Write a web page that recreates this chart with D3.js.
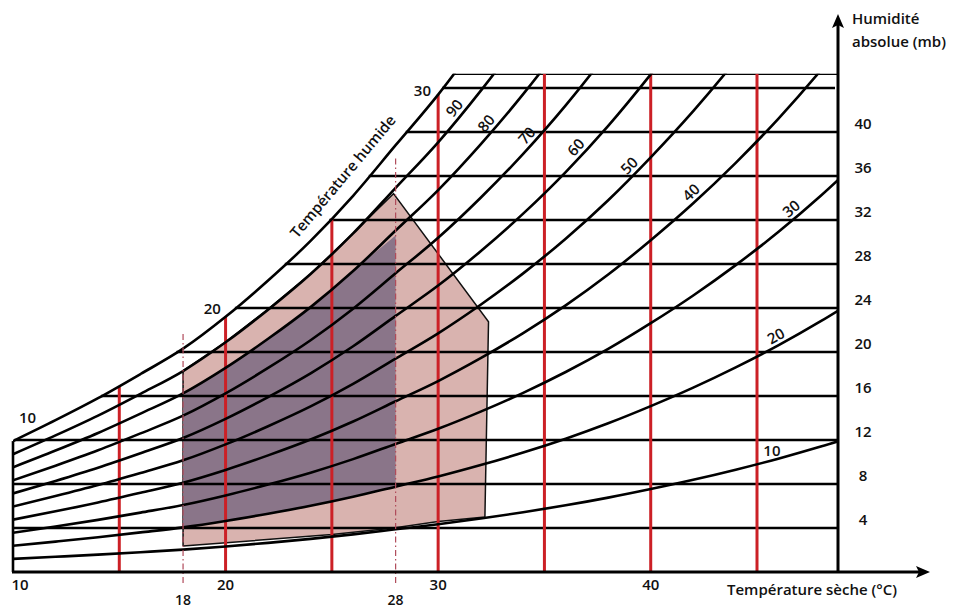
<!DOCTYPE html>
<html><head><meta charset="utf-8">
<title>Diagramme de Givoni</title>
<script src="https://cdn.jsdelivr.net/npm/d3@7"></script>
<style>
  html,body{margin:0;background:#fff}
  svg{display:block}
  text{font-family:"Open Sans",sans-serif;font-weight:600;fill:#111}
</style></head><body>
<svg width="966" height="609"></svg>
<script>
// --- data ----------------------------------------------------------
// saturation humidity (mb) along the 100% curve
const satT = [10,12,14,16,18,20,22,24,26,28,30,32,34,36,38,40,42,44,46,48,50];
const satH = [11.9,13.8,15.8,18.0,20.3,23.2,26.5,30.1,34.2,38.8,43.4,48.6,54.3,60.6,67.6,75.4,83.8,93.0,103.0,114.0,126.0];
const rhLevels  = [10,20,30,40,50,60,70,80,90,100];
const rhLabelAt = [45.7,46.1,46.9,42.2,39.3,36.8,34.5,32.6,31.1];   // T where each RH label sits
const humTicks  = [4,8,12,16,20,24,28,32,36,40];
const humLines  = [4,8,12,16,20,24,28,32,36,40,44,45.3];
const tempTicks = [10,20,30,40];
const redT      = [15,20,25,30,35,40,45];
const comfortT  = [18,28];
const comfortTop = [21.7,37.6];
const wetBulb   = [10,20,30];
const wetBulbAt = [11,19.8,29.8];
const pinkZone = [[18,2.36],[18,18.3],[20,20.9],[22,23.9],[24,27.1],[26,30.8],[27.9,34.4],
                  [32.37,22.75],[32.2,5.0],[30,4.6],[27.9,4.0],[25,3.4],[18,2.36]];
const darkZone = [[18,4.05],[18,16.2],[20,18.6],[22,21.2],[24,24.1],[26,27.4],[28,30.6],
                  [28,7.8],[26,6.8],[24,6.0],[22,5.3],[20,4.6],[18,4.05]];

// --- layout ---------------------------------------------------------
const svg = d3.select('svg');
const x = d3.scaleLinear([10,45],[13,757]);
const y = d3.scaleLinear([0,40],[572,132]);
const xEnd = 838;
const Hmax = humLines[humLines.length-1];
const satAt = d3.scaleLinear(satT, satH);
const tAtSat = d3.scaleLinear(satH, satT);

svg.append('clipPath').attr('id','plot')
  .append('rect').attr('x',x(10)).attr('y',y(Hmax)).attr('width',xEnd-x(10)).attr('height',y(0)-y(Hmax));

const zone = d3.line().x(d=>x(d[0])).y(d=>y(d[1]));
svg.append('path').attr('d',zone(pinkZone)).attr('fill','#d9b3af').attr('stroke','#111').attr('stroke-width',1.5);
svg.append('path').attr('d',zone(darkZone)).attr('fill','#8a7589');

const g = svg.append('g').attr('clip-path','url(#plot)');

// horizontal humidity lines
g.selectAll('line.h').data(humLines).join('line')
  .attr('x1',h=>h<=satH[0]?x(10):x(tAtSat(h))-1)
  .attr('x2',h=>h===44?xEnd-3:xEnd)
  .attr('y1',h=>y(h)).attr('y2',h=>y(h))
  .attr('stroke','#000').attr('stroke-width',2.6);

// red isotherms
g.selectAll('line.r').data(redT).join('line')
  .attr('x1',t=>x(t)).attr('x2',t=>x(t))
  .attr('y1',y(0)).attr('y2',t=>y(Math.min(satAt(t),Hmax)))
  .attr('stroke','#cc2026').attr('stroke-width',3);

// relative humidity curves
const curve = d3.line().x(d=>x(d[0])).y(d=>y(d[1])).curve(d3.curveMonotoneX);
g.selectAll('path.rh').data(rhLevels).join('path')
  .attr('d',rh=>curve(satT.map((t,i)=>[t,satH[i]*rh/100])))
  .attr('fill','none').attr('stroke','#000').attr('stroke-width',2.6);

// comfort limits 18 / 28
svg.selectAll('line.c').data(comfortT).join('line')
  .attr('x1',t=>x(t)).attr('x2',t=>x(t))
  .attr('y1',y(0)+11).attr('y2',(t,i)=>y(comfortTop[i]))
  .attr('stroke','#b04a5a').attr('stroke-width',1.2).attr('stroke-dasharray','6,3,1.5,3');

// axes
svg.append('line').attr('x1',x(10)).attr('x2',x(10)).attr('y1',y(satH[0])).attr('y2',y(0))
  .attr('stroke','#000').attr('stroke-width',2.6);
svg.append('line').attr('x1',x(10)-1).attr('x2',922).attr('y1',y(0)).attr('y2',y(0))
  .attr('stroke','#000').attr('stroke-width',3);
svg.append('path').attr('d',`M930,${y(0)}L916,${y(0)-6}L919,${y(0)}L916,${y(0)+6}Z`).attr('fill','#000');
svg.append('line').attr('x1',xEnd).attr('x2',xEnd).attr('y1',y(0)+1).attr('y2',22)
  .attr('stroke','#000').attr('stroke-width',3);
svg.append('path').attr('d',`M${xEnd},14L${xEnd-6},28L${xEnd},25L${xEnd+6},28Z`).attr('fill','#000');

// tick labels
svg.selectAll('text.tx').data(tempTicks).join('text')
  .attr('x',t=>x(t)+(t===10?7:0)).attr('y',y(0)+18).attr('text-anchor','middle')
  .attr('font-size',15).text(d=>d);
svg.selectAll('text.tc').data(comfortT).join('text')
  .attr('x',t=>x(t)).attr('y',y(0)+33).attr('text-anchor','middle')
  .attr('font-size',14).text(d=>d);
svg.selectAll('text.ty').data(humTicks).join('text')
  .attr('x',863).attr('y',h=>y(h)-3).attr('text-anchor','middle')
  .attr('font-size',15).text(d=>d);

// axis titles
svg.append('text').attr('x',727).attr('y',595).attr('font-size',15).text('Température sèche (°C)');
svg.append('text').attr('x',852).attr('y',24).attr('font-size',15).text('Humidité');
svg.append('text').attr('x',852).attr('y',47).attr('font-size',15).text('absolue (mb)');

// labels sitting on a curve
function onCurve(T, rh, d){
  const s = t => y(satAt(t)*rh/100);
  const dx = x(T+0.2)-x(T-0.2), dy = s(T+0.2)-s(T-0.2);
  const a = Math.atan2(-dy, dx);
  return {x:x(T)-d*Math.sin(a), y:s(T)-d*Math.cos(a), angle:-a*180/Math.PI};
}

rhLevels.slice(0,9).forEach((rh,i)=>{
  const p = onCurve(rhLabelAt[i], rh, 10);
  const flat = rh===10;
  const px = flat?x(rhLabelAt[i]):p.x, py = flat?y(satAt(rhLabelAt[i])*rh/100)-10:p.y;
  svg.append('text').attr('transform',`translate(${px},${py}) rotate(${flat?0:p.angle})`)
    .attr('text-anchor','middle').attr('dominant-baseline','central')
    .attr('font-size',15).text(rh);
});

wetBulb.forEach((w,i)=>{
  const p = onCurve(wetBulbAt[i], 100, 15);
  svg.append('text').attr('x',p.x).attr('y',p.y)
    .attr('text-anchor','middle').attr('dominant-baseline','central')
    .attr('font-size',15).text(w);
});

const pt = onCurve(26.25, 100, 21);
svg.append('text').attr('transform',`translate(${pt.x},${pt.y}) rotate(${pt.angle})`)
  .attr('text-anchor','middle').attr('dominant-baseline','central')
  .attr('font-size',15).text('Température humide');
</script>
</body></html>
